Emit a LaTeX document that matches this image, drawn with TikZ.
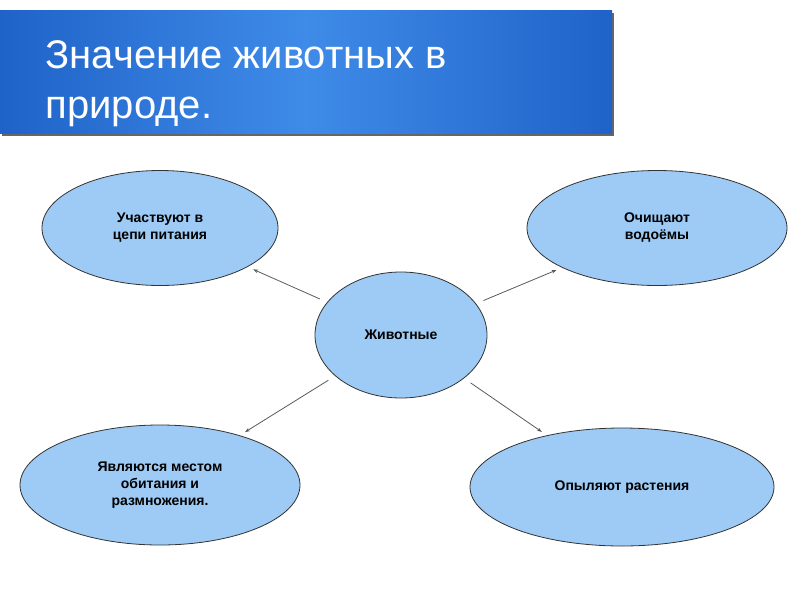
\documentclass[tikz,border=0pt]{standalone}
\usepackage{fontspec}
\setmainfont{Liberation Sans}
\usetikzlibrary{shapes.geometric,arrows.meta}
\definecolor{ellfill}{HTML}{9DCBF5}
\definecolor{barA}{HTML}{3F8BE8}
\definecolor{barB}{HTML}{1F63C8}
\begin{document}
\begin{tikzpicture}[x=1pt,y=-1pt,
  ell/.style={ellipse,draw=black!80,line width=0.8pt,fill=ellfill,align=center,
    font=\bfseries\fontsize{14}{17}\selectfont,inner sep=0pt},
  conn/.style={-{Stealth[length=5pt,width=3.5pt]},draw=black!65,line width=0.8pt,shorten <=8pt,shorten >=6pt}]
\useasboundingbox (0,0) rectangle (800,600);
\fill[black!60] (2,13) rectangle (614,136);
\shade[left color=barB,right color=barB,middle color=barA] (0,10) rectangle (612,133);
\node[anchor=base west,text=white,font=\fontsize{40}{48}\selectfont,align=left] (title) at (42,68) {Значение животных в};
\node[anchor=base west,text=white,font=\fontsize{40}{48}\selectfont] (title2) at (42,118) {природе.};
\node[ell,minimum width=172pt,minimum height=126pt] (c) at (401,335) {Животные};
\node[ell,minimum width=236pt,minimum height=115pt] (tl) at (160,228) {Участвуют в\\цепи питания};
\node[ell,minimum width=260pt,minimum height=115pt] (tr) at (657,228) {Очищают\\водоёмы};
\node[ell,minimum width=280pt,minimum height=120pt] (bl) at (160,485) {Являются местом\\обитания и\\размножения.};
\node[ell,minimum width=304pt,minimum height=118pt] (br) at (622,487) {Опыляют растения};
\draw[conn] (c) -- (tl);
\draw[conn] (c) -- (tr);
\draw[conn] (c) -- (bl);
\draw[conn] (c) -- (br);
\end{tikzpicture}
\end{document}
